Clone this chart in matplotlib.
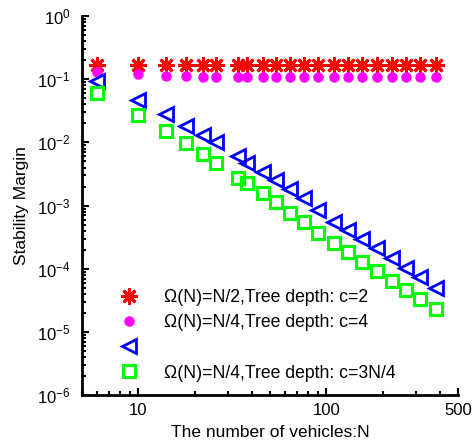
import matplotlib

matplotlib.use("Agg")
import matplotlib.pyplot as plt
from matplotlib.ticker import LogLocator, NullFormatter, FixedLocator, FixedFormatter

plt.rcParams["font.family"] = ["Liberation Sans", "DejaVu Sans"]
plt.rcParams["mathtext.fontset"] = "custom"
plt.rcParams["mathtext.rm"] = "Liberation Sans"
plt.rcParams["mathtext.default"] = "regular"

# ── Data ───────────────────────────────────────────────────────────────
N = [6, 10, 14, 18, 22, 26, 34, 38, 46, 54, 64, 76, 90, 110, 130,
     154, 186, 222, 266, 314, 382]

margin_c2 = [0.168] * len(N)
margin_c4 = [0.13, 0.12, 0.112, 0.112, 0.108, 0.108, 0.108, 0.108, 0.108,
             0.108, 0.108, 0.108, 0.108, 0.108, 0.108, 0.108, 0.108, 0.108,
             0.108, 0.108, 0.108]
margin_blue = [0.094, 0.047, 0.028, 0.018, 0.013, 0.0102, 0.0061, 0.0048,
               0.0034, 0.0025, 0.0018, 0.0013, 0.00085, 0.00056, 0.00041,
               0.0003, 0.00021, 0.000147, 0.000102, 7.5e-5, 4.9e-5]
margin_c3n4 = [0.06, 0.027, 0.015, 0.0097, 0.0065, 0.0048, 0.0027, 0.00225,
               0.00157, 0.00115, 0.000755, 0.000556, 0.000373, 0.000259,
               0.000187, 0.000129, 9.3e-5, 6.5e-5, 4.6e-5, 3.3e-5, 2.3e-5]

labels = ["Ω(N)=N/2,Tree depth: c=2",
          "Ω(N)=N/4,Tree depth: c=4",
          "",
          "Ω(N)=N/4,Tree depth: c=3N/4"]

x_ticks = [10, 100, 500]
x_ticklabels = ["10", "100", "500"]
y_ticks = [1e-6, 1e-5, 1e-4, 1e-3, 1e-2, 1e-1, 1e0]
y_ticklabels = ["$10^{-6}$", "$10^{-5}$", "$10^{-4}$", "$10^{-3}$",
                "$10^{-2}$", "$10^{-1}$", "$10^{0}$"]

# ── Plot ───────────────────────────────────────────────────────────────
fig = plt.figure(figsize=(4.76, 4.47), dpi=100)
ax = fig.add_axes([0.172, 0.116, 0.79, 0.848])

h1, = ax.plot(N, margin_c2, ls="none", marker=(8, 2, 0), ms=12, mew=2.0,
              color="#ff0000")
h2, = ax.plot(N, margin_c4, ls="none", marker="o", ms=6.5,
              color="#ff00ff", mec="#ff00ff")
h3, = ax.plot(N, margin_blue, ls="none", marker="<", ms=10, mew=2,
              mfc="none", mec="#0000ff")
h4, = ax.plot(N, margin_c3n4, ls="none", marker="s", ms=8, mew=2.2,
              mfc="none", mec="#00ff00")

ax.set_xscale("log")
ax.set_yscale("log")
ax.set_xlim(5, 500)
ax.set_ylim(1e-6, 1)

ax.xaxis.set_major_locator(FixedLocator(x_ticks))
ax.xaxis.set_major_formatter(FixedFormatter(x_ticklabels))
ax.xaxis.set_minor_locator(LogLocator(base=10, subs=range(2, 10), numticks=20))
ax.xaxis.set_minor_formatter(NullFormatter())
ax.yaxis.set_major_locator(FixedLocator(y_ticks))
ax.yaxis.set_major_formatter(FixedFormatter(y_ticklabels))
ax.yaxis.set_minor_locator(LogLocator(base=10, subs=range(2, 10), numticks=20))
ax.yaxis.set_minor_formatter(NullFormatter())

ax.spines["top"].set_visible(False)
ax.spines["right"].set_visible(False)
ax.spines["left"].set_linewidth(2)
ax.spines["bottom"].set_linewidth(2)
ax.tick_params(which="both", direction="in", width=1.5, labelsize=12)
ax.tick_params(which="major", length=5)
ax.tick_params(which="minor", length=3)
ax.tick_params(axis="x", pad=6)
ax.tick_params(axis="y", pad=8)

ax.set_xlabel("The number of vehicles:N", fontsize=12.5, labelpad=5)
ax.set_ylabel("Stability Margin", fontsize=12.5, labelpad=6)

ax.legend([h1, h2, h3, h4], labels, loc="upper left",
          bbox_to_anchor=(0.06, 0.298), frameon=False, fontsize=12.7,
          handletextpad=1.0, labelspacing=0.46, borderaxespad=0)

fig.savefig("out.png", dpi=100)
